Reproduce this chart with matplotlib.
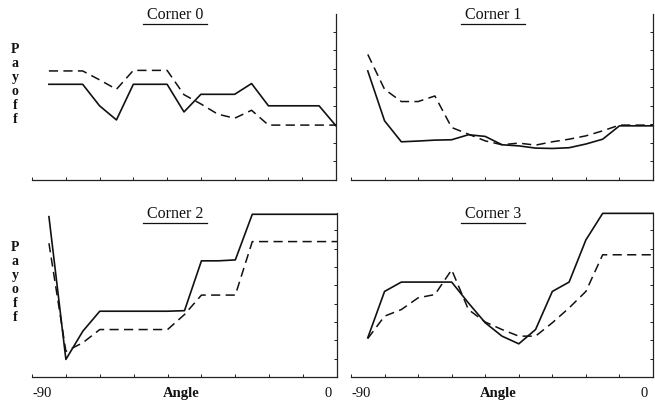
import numpy as np
import matplotlib
matplotlib.use("Agg")
import matplotlib.pyplot as plt
from matplotlib.lines import Line2D

# ===============================
# DATA (payoff vs angle, 4 corners)
# ===============================
angles = [-85, -80, -75, -70, -65, -60, -55, -50, -45,
          -40, -35, -30, -25, -20, -15, -10, -5, 0]

c0_solid = [5.16, 5.16, 5.16, 4.0, 3.24, 5.16, 5.16, 5.16, 3.67,
            4.62, 4.62, 4.62, 5.2, 4.0, 4.0, 4.0, 4.0, 2.92]
c0_dash = [5.88, 5.88, 5.88, 5.4, 4.89, 5.91, 5.91, 5.91, 4.6,
           4.1, 3.55, 3.33, 3.76, 2.96, 2.96, 2.96, 2.96, 2.96]

c1_solid = [5.88, 3.19, 2.06, 2.1, 2.15, 2.17, 2.44, 2.35, 1.9,
            1.84, 1.72, 1.70, 1.74, 1.94, 2.2, 2.92, 2.92, 2.92]
c1_dash = [6.77, 4.89, 4.23, 4.23, 4.53, 2.83, 2.47, 2.11, 1.9,
           1.99, 1.88, 2.06, 2.2, 2.38, 2.65, 2.96, 2.96, 2.96]

c2_solid = [8.75, 0.96, 2.5, 3.59, 3.59, 3.59, 3.59, 3.59, 3.62,
            6.34, 6.34, 6.39, 8.88, 8.88, 8.88, 8.88, 8.88, 8.88]
c2_dash = [7.3, 1.4, 1.87, 2.59, 2.59, 2.59, 2.59, 2.59, 3.41,
           4.47, 4.47, 4.47, 7.39, 7.39, 7.39, 7.39, 7.39, 7.39]

c3_solid = [2.14, 4.67, 5.18, 5.18, 5.18, 5.18, 4.04, 2.96, 2.23,
            1.81, 2.59, 4.67, 5.18, 7.48, 8.93, 8.93, 8.93, 8.93]
c3_dash = [2.1, 3.32, 3.68, 4.32, 4.5, 5.85, 3.68, 3.0, 2.59,
           2.23, 2.23, 2.96, 3.77, 4.67, 6.67, 6.67, 6.67, 6.67]

titles = ["Corner 0", "Corner 1", "Corner 2", "Corner 3"]
series = [(c0_solid, c0_dash), (c1_solid, c1_dash),
          (c2_solid, c2_dash), (c3_solid, c3_dash)]

# ===============================
# LAYOUT (pixels -> figure fraction)
# ===============================
W, H = 655, 402
fig = plt.figure(figsize=(W / 100, H / 100), dpi=100)

def frac(x0, x1, ytop, ybot):
    return [x0 / W, 1 - ybot / H, (x1 - x0) / W, (ybot - ytop) / H]

boxes = [frac(32, 336, 15, 181), frac(351, 653, 15, 181),
         frac(32, 337, 214, 378), frac(351, 653, 214, 378)]

serif = ["Liberation Serif", "DejaVu Serif"]
ink = "#111111"

for i, (box, title, (solid, dash)) in enumerate(zip(boxes, titles, series)):
    ax = fig.add_axes(box)
    ax.plot(angles, solid, color=ink, lw=1.2, clip_on=False)
    ax.plot(angles, dash, color=ink, lw=1.1, dashes=(6, 3.5), clip_on=False)
    ax.set_xlim(-90, 0)
    ax.set_ylim(0, 8.95)
    ax.set_facecolor("none")

    for s in ["top", "left"]:
        ax.spines[s].set_visible(False)
    for s in ["bottom", "right"]:
        ax.spines[s].set_linewidth(0.9)
        ax.spines[s].set_color("#222222")

    ax.set_xticks(np.arange(-90, 1, 10))
    ax.set_yticks(np.arange(1, 9))
    ax.xaxis.set_ticks_position("bottom")
    ax.yaxis.set_ticks_position("right")
    ax.tick_params(direction="in", length=2.5, width=0.7, colors="#222222",
                   labelbottom=False, labelright=False, labelleft=False)

    # title, underlined
    ax.text(0.47, 1.0, title, transform=ax.transAxes, ha="center",
            va="center", fontsize=11.5, family=serif, color=ink)
    ax.add_line(Line2D([0.365, 0.575], [0.94, 0.94], transform=ax.transAxes,
                       color=ink, lw=0.9, clip_on=False))

    if i % 2 == 0:
        ax.text(-0.055, 0.58, "P\na\ny\no\nf\nf", transform=ax.transAxes,
                ha="center", va="center", fontsize=10, fontweight="bold",
                family=serif, color=ink, linespacing=1.1)

    if i >= 2:
        xt = ax.get_xaxis_transform()
        ax.text(-87, -0.095, "-90", transform=xt, ha="center", va="center",
                fontsize=10.5, family=serif, color=ink)
        ax.text(-2.5, -0.095, "0", transform=xt, ha="center", va="center",
                fontsize=10.5, family=serif, color=ink)
        ax.text(-46, -0.095, "Angle", transform=xt, ha="center", va="center",
                fontsize=10.5, fontweight="bold", family=serif, color=ink)

fig.savefig("out.png", dpi=100, facecolor="white")
